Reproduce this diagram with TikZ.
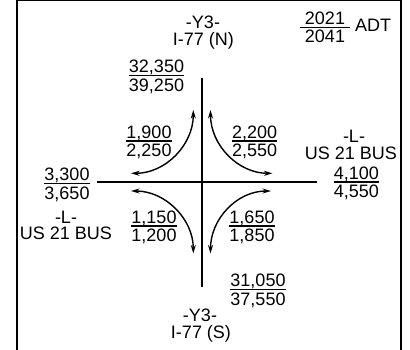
\documentclass[tikz,border=0pt]{standalone}
\usepackage{fontspec}
\setmainfont{Liberation Sans}
\usetikzlibrary{arrows.meta}
\tikzset{
  txt/.style={inner sep=0pt, anchor=base, font=\fontsize{18}{20}\selectfont},
  road/.style={line width=2.2pt},
  fracrule/.style={line width=1.4pt},
  turn/.style={line width=1.4pt, {Stealth[length=8.5pt,width=5pt]}-{Stealth[length=8.5pt,width=5pt]}},
  frame/.style={line width=2pt}
}
\newcommand\fracpair[5]{%
  \node[txt] (#1t) at (#2,#3) {#4};
  \node[txt] (#1b) at (#2,{#3+18.4}) {#5};
  \draw[fracrule] ([yshift=-2.7pt]#1t.base west) -- ([yshift=-2.7pt]#1t.base east);
}
\begin{document}
\begin{tikzpicture}[x=1pt,y=-1pt]
\useasboundingbox (0,0) rectangle (410,350);
\begin{scope}
\clip (0,0) rectangle (410,350);
\draw[frame] (17,0) rectangle (401,360);
\end{scope}
% roads
\coordinate (vtop) at (201.7,78);
\coordinate (vbot) at (201.7,287);
\coordinate (hl) at (97,182.3);
\coordinate (hr) at (317,182.3);
\draw[road] (vtop) -- (vbot);
\draw[road] (hl) -- (hr);
% turning movements
\coordinate (tlA) at (131,173.3);
\coordinate (tlB) at (193.3,110);
\coordinate (trA) at (210.5,110);
\coordinate (trB) at (272.5,173.3);
\coordinate (blA) at (131,191);
\coordinate (blB) at (193.3,253.5);
\coordinate (brA) at (210.5,253.5);
\coordinate (brB) at (271,191);
\draw[turn] (tlA) .. controls (165.4,173.3) and (193.3,145) .. (tlB);
\draw[turn] (trA) .. controls (210.5,145) and (238,173.3) .. (trB);
\draw[turn] (blA) .. controls (165.4,191) and (193.3,219) .. (blB);
\draw[turn] (brA) .. controls (210.5,219) and (237,191) .. (brB);
% labels
\node[txt] (y3n) at (203,29) {-Y3-};
\node[txt] (i77n) at (203.3,46) {I-77 (N)};
\node[txt] (y3s) at (200,321) {-Y3-};
\node[txt] (i77s) at (201,338.3) {I-77 (S)};
\node[txt] (lr) at (354,142.8) {-L-};
\node[txt] (usr) at (351,160) {US 21 BUS};
\node[txt] (ll) at (66,223) {-L-};
\node[txt] (usl) at (66,240) {US 21 BUS};
% legend
\node[txt] (yrt) at (325,24.5) {2021};
\node[txt] (yrb) at (325,42.9) {2041};
\draw[fracrule] (300,27.3) -- (350,27.3);
\node[txt] (adt) at (373,32) {ADT};
% volumes
\fracpair{n}{156.5}{73}{32,350}{39,250}
\fracpair{nw}{149}{138.3}{1,900}{2,250}
\fracpair{ne}{254.7}{138.3}{2,200}{2,550}
\fracpair{w}{67}{181}{3,300}{3,650}
\fracpair{e}{356.3}{179.5}{4,100}{4,550}
\fracpair{sw}{154}{223.3}{1,150}{1,200}
\fracpair{se}{252}{223.3}{1,650}{1,850}
\fracpair{s}{258}{286.7}{31,050}{37,550}
\end{tikzpicture}
\end{document}
